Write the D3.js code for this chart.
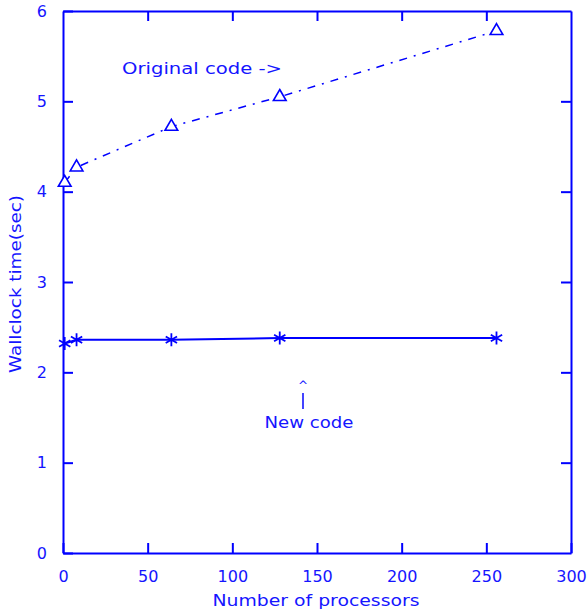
<!DOCTYPE html>
<html><head><meta charset="utf-8">
<script src="https://cdn.jsdelivr.net/npm/d3@7"></script>
<style>body{margin:0;background:#fff}svg{display:block}</style>
</head><body>
<svg id="c" width="587" height="611"></svg>
<script>
const processors = [1, 8, 64, 128, 256];
const originalCode = [4.10, 4.27, 4.72, 5.05, 5.78];
const newCode = [2.32, 2.36, 2.36, 2.38, 2.38];
const xTicks = [0, 50, 100, 150, 200, 250, 300];
const yTicks = [0, 1, 2, 3, 4, 5, 6];
const xTitle = "Number of processors";
const yTitle = "Wallclock time(sec)";
const origLabel = "Original code ->";
const newLabel = "New code";

const blue = "#0000ff";
const textBlue = "#1515ff";
const font = "'DejaVu Sans', sans-serif";
const svg = d3.select("#c");
const m = {l: 63, t: 11, r: 16, b: 58};
const W = 587 - m.l - m.r, H = 611 - m.t - m.b;
const g = svg.append("g").attr("transform", `translate(${m.l},${m.t})`);
const x = d3.scaleLinear().domain([0, 300]).range([0, W]);
const y = d3.scaleLinear().domain([0, 6]).range([H, 0]);

function styleAxis(sel, labels) {
  sel.select(".domain").attr("stroke", blue).attr("stroke-width", 2);
  sel.selectAll(".tick line").attr("stroke", blue).attr("stroke-width", 2);
  sel.selectAll(".tick text").attr("fill", textBlue).attr("font-family", font).attr("font-size", 16);
  if (!labels) sel.selectAll(".tick text").remove();
}
const ax = g.append("g").attr("transform", `translate(0,${H})`)
  .call(d3.axisBottom(x).tickValues(xTicks).tickFormat(d3.format("d")).tickSizeInner(-10).tickSizeOuter(0).tickPadding(18));
styleAxis(ax, true);
const axTop = g.append("g").call(d3.axisTop(x).tickValues(xTicks.slice(1, -1)).tickSizeInner(-10).tickSizeOuter(0));
styleAxis(axTop, false);
const ay = g.append("g")
  .call(d3.axisLeft(y).tickValues(yTicks).tickFormat(d3.format("d")).tickSizeInner(-10).tickSizeOuter(0).tickPadding(16));
styleAxis(ay, true);
const ayR = g.append("g").attr("transform", `translate(${W},0)`)
  .call(d3.axisRight(y).tickValues(yTicks.slice(1, -1)).tickSizeInner(-10).tickSizeOuter(0));
styleAxis(ayR, false);

const line = d3.line().x(d => x(d[0])).y(d => y(d[1]));
const origData = processors.map((p, i) => [p, originalCode[i]]);
const newData = processors.map((p, i) => [p, newCode[i]]);

g.append("path").datum(origData).attr("d", line).attr("fill", "none")
  .attr("stroke", blue).attr("stroke-width", 1.5).attr("stroke-dasharray", "8,7,2,7");
g.append("path").datum(newData).attr("d", line).attr("fill", "none")
  .attr("stroke", blue).attr("stroke-width", 2);

const tri = d3.symbol().type(d3.symbolTriangle).size(70);
g.selectAll(".tri").data(origData).join("path")
  .attr("transform", d => `translate(${x(d[0])},${y(d[1])})`)
  .attr("d", tri).attr("fill", "#fff").attr("stroke", blue).attr("stroke-width", 1.6);

const star = d3.symbol().type(d3.symbolAsterisk).size(120);
g.selectAll(".star").data(newData).join("path")
  .attr("transform", d => `translate(${x(d[0])},${y(d[1])})`)
  .attr("d", star).attr("fill", "none").attr("stroke", blue).attr("stroke-width", 1.8);

const t = (txt, px, py, len, rot) => {
  const e = svg.append("text").attr("x", px).attr("y", py).text(txt)
    .attr("fill", textBlue).attr("font-family", font).attr("font-size", 15)
    .attr("text-anchor", "middle");
  if (len) e.attr("textLength", len).attr("lengthAdjust", "spacingAndGlyphs");
  if (rot) e.attr("transform", `rotate(-90,${px},${py})`);
  return e;
};
t(xTitle, 316, 606, 207);
t(yTitle, 21, 284, 178, true);
t(origLabel, 202, 74, 160);
t(newLabel, 309, 428, 89);
t("^", 303, 390).attr("font-size", 12);
svg.append("line").attr("x1", 303).attr("x2", 303).attr("y1", 393).attr("y2", 409)
  .attr("stroke", textBlue).attr("stroke-width", 1.6);
</script>
</body></html>
